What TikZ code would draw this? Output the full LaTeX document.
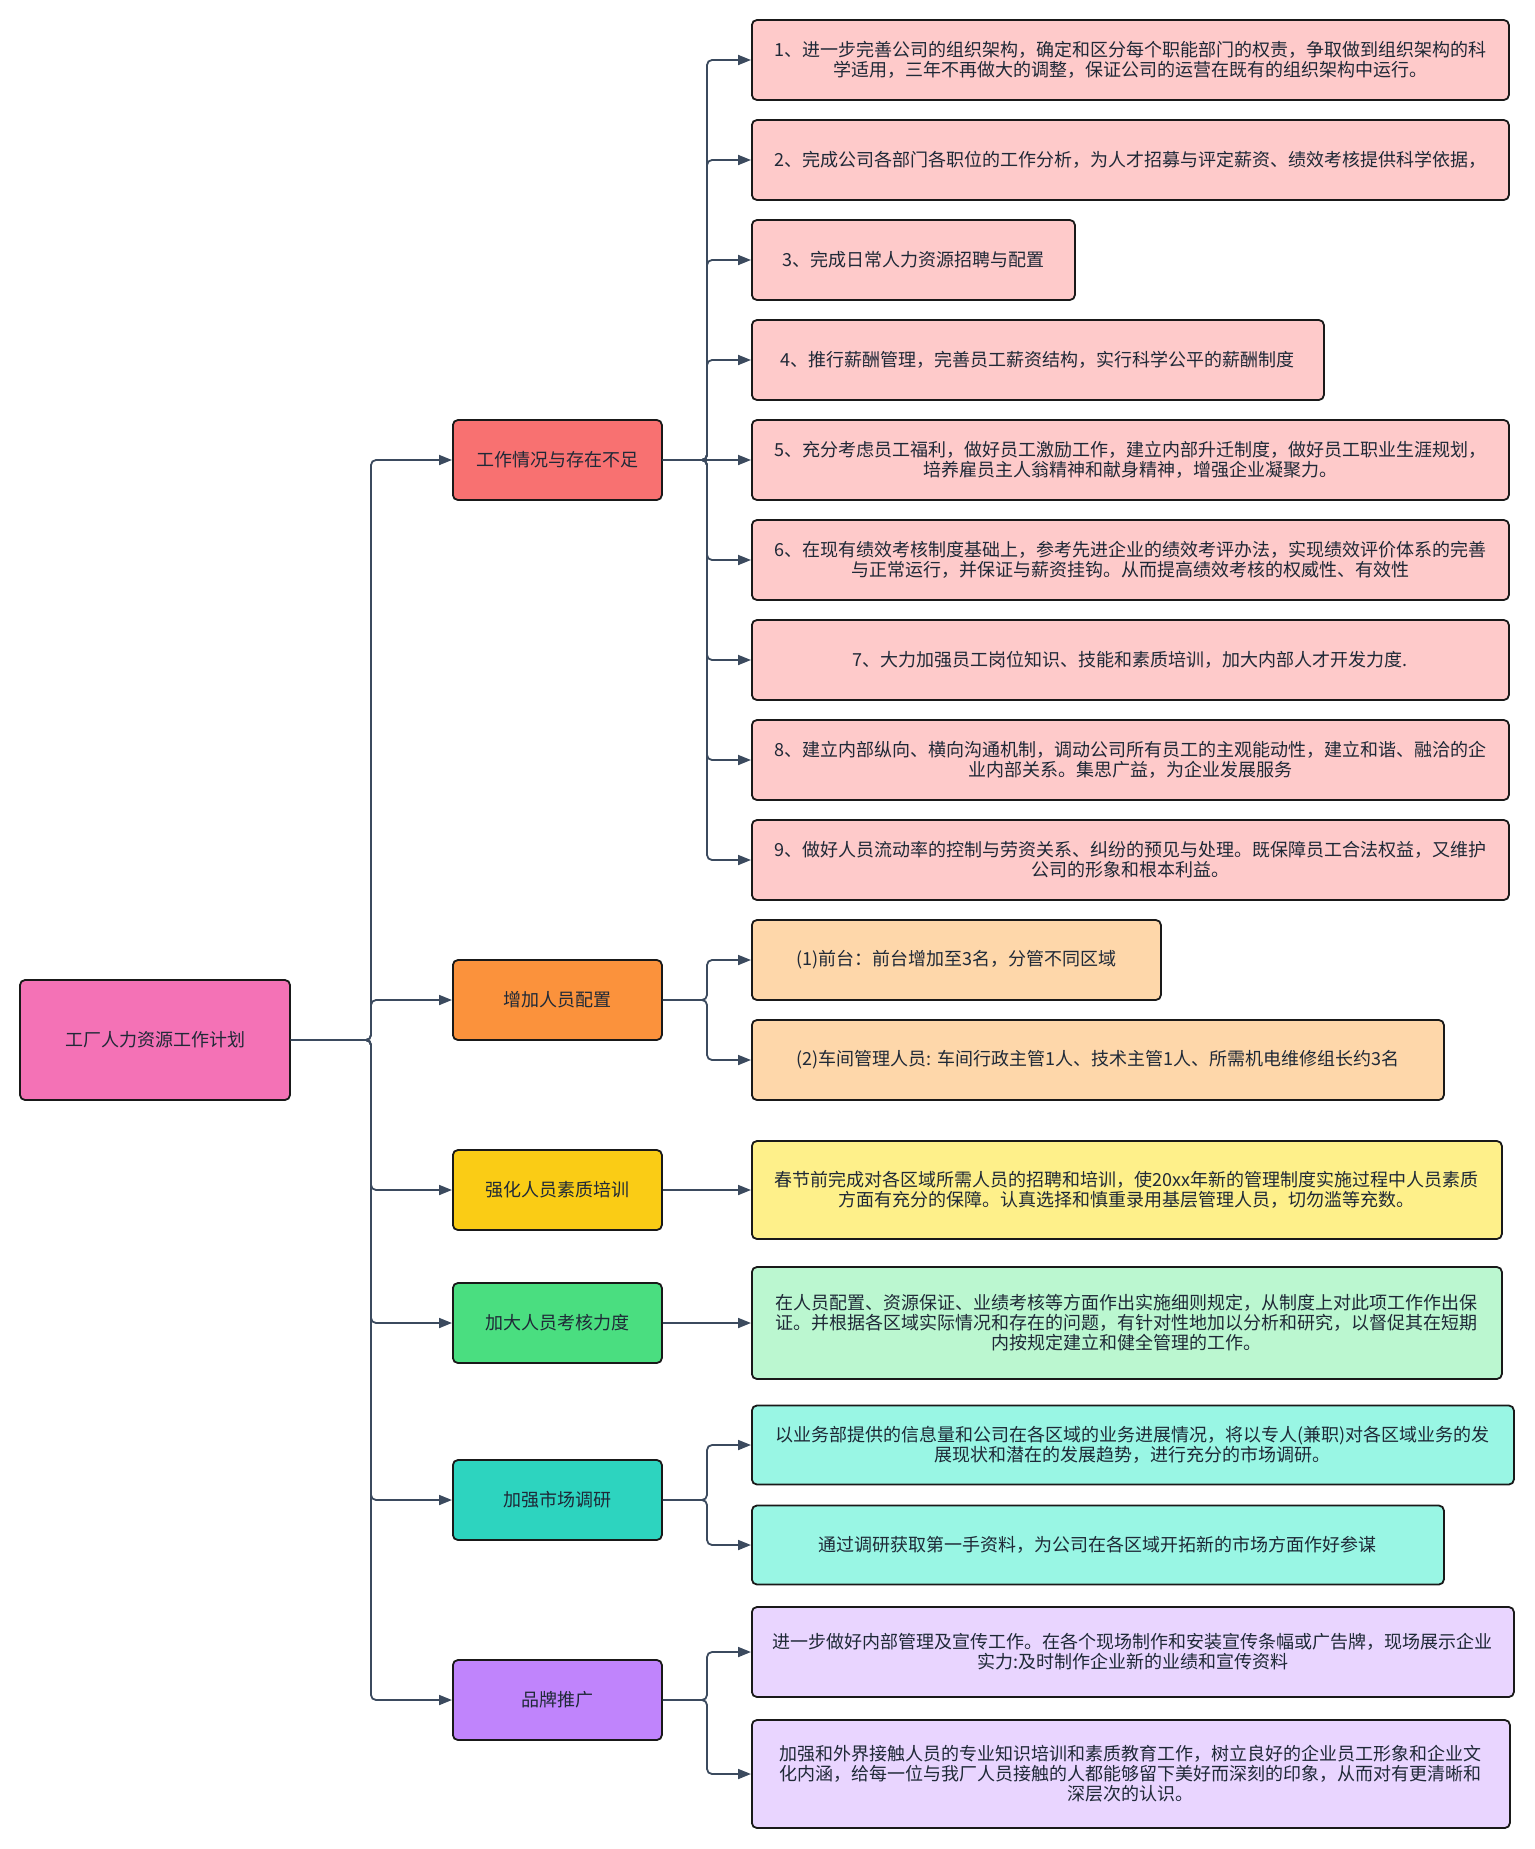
\documentclass[tikz,border=0pt]{standalone}
\usepackage{fontspec}
\setmainfont{Noto Sans CJK SC}
\usepackage{tikz}
\usepackage{xcolor}
\usetikzlibrary{arrows.meta}

\definecolor{linkcol}{HTML}{3B4A5E}
\definecolor{txtcol}{HTML}{1F2937}
\definecolor{rootcol}{HTML}{F472B6}
\definecolor{redcol}{HTML}{F87171}
\definecolor{orangecol}{HTML}{FB923C}
\definecolor{yellowcol}{HTML}{FACC15}
\definecolor{greencol}{HTML}{4ADE80}
\definecolor{tealcol}{HTML}{2DD4BF}
\definecolor{purplecol}{HTML}{C084FC}
\definecolor{redleaf}{HTML}{FECACA}
\definecolor{orangeleaf}{HTML}{FED7AA}
\definecolor{yellowleaf}{HTML}{FEF08A}
\definecolor{greenleaf}{HTML}{BBF7D0}
\definecolor{tealleaf}{HTML}{99F6E4}
\definecolor{purpleleaf}{HTML}{E9D5FF}

\tikzset{
  box/.style={draw=black!90,line width=1.8pt,rounded corners=5pt,inner sep=0pt,align=center,
    text=txtcol,font=\fontsize{18}{20}\selectfont},
  catbox/.style={box,anchor=west,minimum width=209pt,minimum height=80pt},
  leaf/.style={box,anchor=west,minimum height=80pt},
  link/.style={draw=linkcol,line width=1.8pt,rounded corners=5pt,-{Triangle[length=13pt,width=10pt]}}
}

\begin{document}
\begin{tikzpicture}[x=1pt,y=-1pt]
\useasboundingbox (0,0) rectangle (1534,1849);
\coordinate (t1) at (371,0);
\coordinate (t2) at (707,0);
\node[box,fill=rootcol,minimum width=270pt,minimum height=120pt] (root) at (155,1040) {工厂人力资源工作计划};
\node[catbox,fill=redcol] (c1) at (452,460) {工作情况与存在不足};
\node[catbox,fill=orangecol] (c2) at (452,1000) {增加人员配置};
\node[catbox,fill=yellowcol] (c3) at (452,1190) {强化人员素质培训};
\node[catbox,fill=greencol] (c4) at (452,1323) {加大人员考核力度};
\node[catbox,fill=tealcol] (c5) at (452,1500) {加强市场调研};
\node[catbox,fill=purplecol] (c6) at (452,1700) {品牌推广};
\node[leaf,fill=redleaf,minimum width=757pt] (l1) at (751,60) {1、进一步完善公司的组织架构，确定和区分每个职能部门的权责，争取做到组织架构的科\\学适用，三年不再做大的调整，保证公司的运营在既有的组织架构中运行。};
\node[leaf,fill=redleaf,minimum width=757pt] (l2) at (751,160) {2、完成公司各部门各职位的工作分析，为人才招募与评定薪资、绩效考核提供科学依据，};
\node[leaf,fill=redleaf,minimum width=323pt] (l3) at (751,260) {3、完成日常人力资源招聘与配置};
\node[leaf,fill=redleaf,minimum width=572pt] (l4) at (751,360) {4、推行薪酬管理，完善员工薪资结构，实行科学公平的薪酬制度};
\node[leaf,fill=redleaf,minimum width=757pt] (l5) at (751,460) {5、充分考虑员工福利，做好员工激励工作，建立内部升迁制度，做好员工职业生涯规划，\\培养雇员主人翁精神和献身精神，增强企业凝聚力。};
\node[leaf,fill=redleaf,minimum width=757pt] (l6) at (751,560) {6、在现有绩效考核制度基础上，参考先进企业的绩效考评办法，实现绩效评价体系的完善\\与正常运行，并保证与薪资挂钩。从而提高绩效考核的权威性、有效性};
\node[leaf,fill=redleaf,minimum width=757pt] (l7) at (751,660) {7、大力加强员工岗位知识、技能和素质培训，加大内部人才开发力度.};
\node[leaf,fill=redleaf,minimum width=757pt] (l8) at (751,760) {8、建立内部纵向、横向沟通机制，调动公司所有员工的主观能动性，建立和谐、融洽的企\\业内部关系。集思广益，为企业发展服务};
\node[leaf,fill=redleaf,minimum width=757pt] (l9) at (751,860) {9、做好人员流动率的控制与劳资关系、纠纷的预见与处理。既保障员工合法权益，又维护\\公司的形象和根本利益。};
\node[leaf,fill=orangeleaf,minimum width=409pt] (o1) at (751,960) {(1)前台：前台增加至3名，分管不同区域};
\node[leaf,fill=orangeleaf,minimum width=692pt] (o2) at (751,1060) {(2)车间管理人员: 车间行政主管1人、技术主管1人、所需机电维修组长约3名};
\node[leaf,fill=yellowleaf,minimum width=750pt,minimum height=98pt] (y1) at (751,1190) {春节前完成对各区域所需人员的招聘和培训，使20xx年新的管理制度实施过程中人员素质\\方面有充分的保障。认真选择和慎重录用基层管理人员，切勿滥等充数。};
\node[leaf,fill=greenleaf,minimum width=750pt,minimum height=112pt] (g1) at (751,1323) {在人员配置、资源保证、业绩考核等方面作出实施细则规定，从制度上对此项工作作出保\\证。并根据各区域实际情况和存在的问题，有针对性地加以分析和研究，以督促其在短期\\内按规定建立和健全管理的工作。};
\node[leaf,fill=tealleaf,minimum width=762pt,minimum height=79pt] (m1) at (751,1445) {以业务部提供的信息量和公司在各区域的业务进展情况，将以专人(兼职)对各区域业务的发\\展现状和潜在的发展趋势，进行充分的市场调研。};
\node[leaf,fill=tealleaf,minimum width=692pt,minimum height=79pt] (m2) at (751,1545) {通过调研获取第一手资料，为公司在各区域开拓新的市场方面作好参谋};
\node[leaf,fill=purpleleaf,minimum width=762pt,minimum height=90pt] (b1) at (751,1652) {进一步做好内部管理及宣传工作。在各个现场制作和安装宣传条幅或广告牌，现场展示企业\\实力:及时制作企业新的业绩和宣传资料};
\node[leaf,fill=purpleleaf,minimum width=758pt,minimum height=108pt] (b2) at (751,1774) {加强和外界接触人员的专业知识培训和素质教育工作，树立良好的企业员工形象和企业文\\化内涵，给每一位与我厂人员接触的人都能够留下美好而深刻的印象，从而对有更清晰和\\深层次的认识。};
\draw[link] (root.east) -- (root.east -| t1) |- (c1.west);
\draw[link] (root.east) -- (root.east -| t1) |- (c2.west);
\draw[link] (root.east) -- (root.east -| t1) |- (c3.west);
\draw[link] (root.east) -- (root.east -| t1) |- (c4.west);
\draw[link] (root.east) -- (root.east -| t1) |- (c5.west);
\draw[link] (root.east) -- (root.east -| t1) |- (c6.west);
\draw[link] (c1.east) -- (c1.east -| t2) |- (l1.west);
\draw[link] (c1.east) -- (c1.east -| t2) |- (l2.west);
\draw[link] (c1.east) -- (c1.east -| t2) |- (l3.west);
\draw[link] (c1.east) -- (c1.east -| t2) |- (l4.west);
\draw[link] (c1.east) -- (l5.west);
\draw[link] (c1.east) -- (c1.east -| t2) |- (l6.west);
\draw[link] (c1.east) -- (c1.east -| t2) |- (l7.west);
\draw[link] (c1.east) -- (c1.east -| t2) |- (l8.west);
\draw[link] (c1.east) -- (c1.east -| t2) |- (l9.west);
\draw[link] (c2.east) -- (c2.east -| t2) |- (o1.west);
\draw[link] (c2.east) -- (c2.east -| t2) |- (o2.west);
\draw[link] (c3.east) -- (y1.west);
\draw[link] (c4.east) -- (g1.west);
\draw[link] (c5.east) -- (c5.east -| t2) |- (m1.west);
\draw[link] (c5.east) -- (c5.east -| t2) |- (m2.west);
\draw[link] (c6.east) -- (c6.east -| t2) |- (b1.west);
\draw[link] (c6.east) -- (c6.east -| t2) |- (b2.west);
\end{tikzpicture}
\end{document}
